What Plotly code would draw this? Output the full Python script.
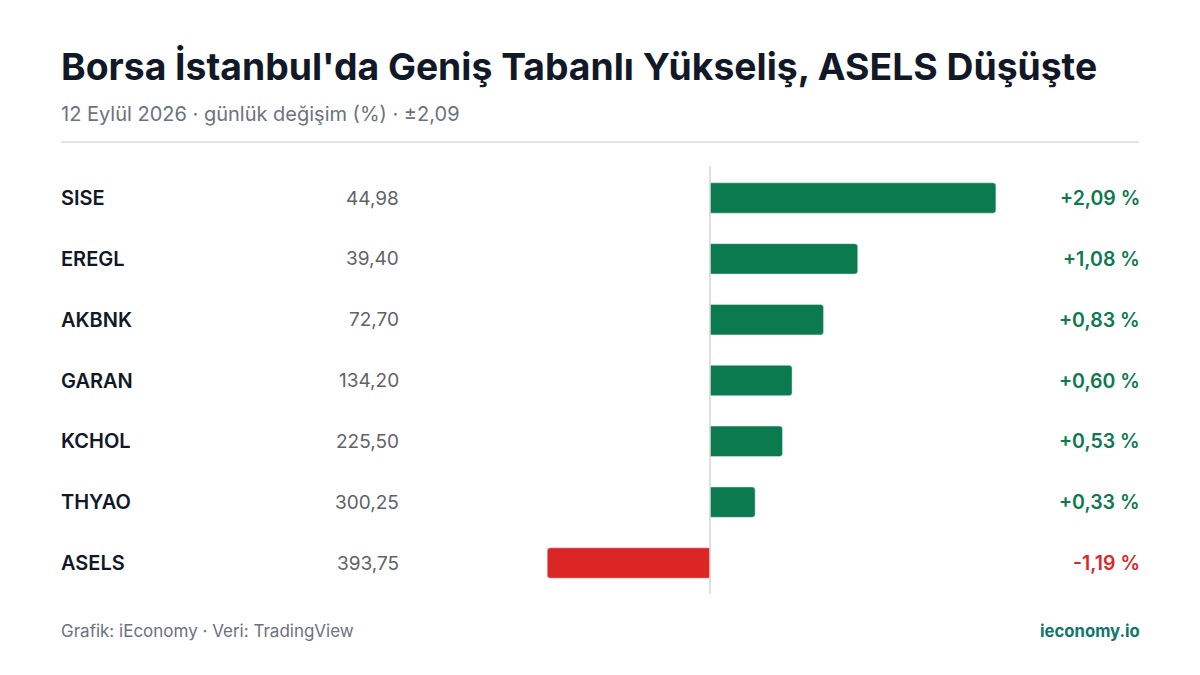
import plotly.graph_objects as go

tickers = ["SISE", "EREGL", "AKBNK", "GARAN", "KCHOL", "THYAO", "ASELS"]
prices = ["44,98", "39,40", "72,70", "134,20", "225,50", "300,25", "393,75"]
changes = [2.09, 1.08, 0.83, 0.60, 0.53, 0.33, -1.19]

GREEN = "#0b7a4f"
RED = "#dc2626"
W, H = 1200, 675
FONT = "Inter"
OFF = 8  # page margin offset in the browser

colors = [GREEN if c >= 0 else RED for c in changes]
idx = list(range(len(tickers)))

fig = go.Figure(go.Bar(
    x=changes, y=idx, orientation="h", width=0.5,
    marker=dict(color=colors, cornerradius=3), hoverinfo="skip",
))

def px(v):
    return (v - OFF) / W

def py(v):
    return 1 - (v - OFF) / H

pxu = 136.8  # pixels per % unit
ypx = 60.83  # pixels per row
zx = 710 - OFF
fig.update_xaxes(range=[-zx / pxu, (W - zx) / pxu], domain=[0, 1], visible=False, fixedrange=True)
fig.update_yaxes(range=[6 + (H - 563 + OFF) / ypx, -(198 - OFF) / ypx], domain=[0, 1],
                 visible=False, fixedrange=True)

def fmt(c):
    return f"{c:+.2f}".replace(".", ",") + " %"

# annotation boxes carry a few px of padding, compensated here
LX, RX = 59, 1142

ann = []
for i, (t, p, c, col) in enumerate(zip(tickers, prices, changes, colors)):
    ann.append(dict(x=px(LX), xref="paper", y=i, yref="y", text=t, xanchor="left",
                    showarrow=False, font=dict(family=FONT, size=20, color="#111827", weight=600)))
    ann.append(dict(x=px(401), xref="paper", y=i, yref="y", text=p, xanchor="right",
                    showarrow=False, font=dict(family=FONT, size=19, color="#5f6368")))
    ann.append(dict(x=px(RX), xref="paper", y=i, yref="y", text=fmt(c), xanchor="right",
                    showarrow=False, font=dict(family=FONT, size=19.5, color=col, weight=600)))

ann += [
    dict(x=px(LX), y=py(67), text="Borsa İstanbul'da Geniş Tabanlı Yükseliş, ASELS Düşüşte",
         xanchor="left", font=dict(family=FONT, size=37.3, color="#111827", weight="bold")),
    dict(x=px(LX), y=py(114), text="12 Eylül 2026 · günlük değişim (%) · ±2,09",
         xanchor="left", font=dict(family=FONT, size=20, color="#6b7280")),
    dict(x=px(LX), y=py(631), text="Grafik: iEconomy · Veri: TradingView",
         xanchor="left", font=dict(family=FONT, size=17, color="#6b7280")),
    dict(x=px(RX), y=py(631), text="ieconomy.io",
         xanchor="right", font=dict(family=FONT, size=16.7, color="#0f766e", weight="bold")),
]
for a in ann[-4:]:
    a.update(xref="paper", yref="paper", yanchor="middle", showarrow=False)

shapes = [
    dict(type="line", xref="paper", yref="paper", x0=px(61), x1=px(1139),
         y0=py(142), y1=py(142), line=dict(color="#dcdcdc", width=1.5)),
    dict(type="line", xref="x", yref="paper", x0=0, x1=0,
         y0=py(166), y1=py(594), line=dict(color="#d4d4d4", width=1.5)),
]

fig.update_layout(
    width=W, height=H, margin=dict(l=0, r=0, t=0, b=0),
    paper_bgcolor="white", plot_bgcolor="white", showlegend=False,
    annotations=ann, shapes=shapes,
)

fig.write_html("out.html", config={"displayModeBar": False})
